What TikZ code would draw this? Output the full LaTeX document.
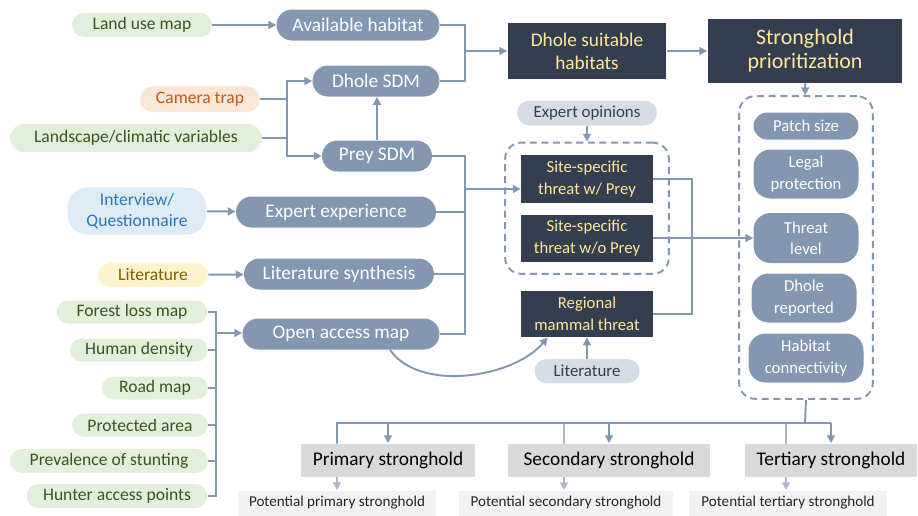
\documentclass[tikz,border=0pt]{standalone}
\usepackage{fontspec}
\setmainfont{Carlito}
\usepackage{tikz}
\usepackage{xcolor}
\definecolor{linecolor}{HTML}{8497B0}
\definecolor{lightline}{HTML}{ADB9CA}
\definecolor{darkfill}{HTML}{333F50}
\definecolor{darktext}{HTML}{FFE699}
\definecolor{greenfill}{HTML}{E2EFDA}
\definecolor{greentext}{HTML}{375623}
\definecolor{orangefill}{HTML}{FBE5D6}
\definecolor{orangetext}{HTML}{C55A11}
\definecolor{bluefill}{HTML}{DDEBF7}
\definecolor{bluetext}{HTML}{2E75B6}
\definecolor{yellowfill}{HTML}{FFF2CC}
\definecolor{yellowtext}{HTML}{7F6000}
\definecolor{palefill}{HTML}{D6DCE5}
\definecolor{tierfill}{HTML}{D9D9D9}
\definecolor{potfill}{HTML}{F2F2F2}
\usetikzlibrary{
  arrows.meta,
  fit,
  backgrounds,
}

\begin{document}
\begin{tikzpicture}[x=0.02cm, y=-0.02cm, >={Triangle[length=4.5pt,width=4.5pt]}]
	\tikzset{
		pill/.style={rectangle, rounded corners=0.24cm, minimum height=0.48cm, inner sep=1pt, font=\fontsize{10}{12}\selectfont},
		greenpill/.style={pill, fill=greenfill, text=greentext},
		proc/.style={rectangle, rounded corners=0.31cm, minimum height=0.62cm, inner sep=1pt, fill=linecolor, text=white, font=\fontsize{11}{13}\selectfont},
		darkbox/.style={rectangle, fill=darkfill, text=darktext, align=center, inner sep=1pt, font=\fontsize{9.5}{12.5}\selectfont},
		palepill/.style={pill, fill=palefill, text=darkfill, font=\fontsize{9.6}{12}\selectfont},
		critnode/.style={rectangle, rounded corners=0.34cm, minimum width=2.1cm, minimum height=0.98cm, inner sep=1pt, fill=linecolor, text=white, align=center, font=\fontsize{9.5}{12}\selectfont},
		dashbox/.style={draw=linecolor, line width=1.1pt, dash pattern=on 4pt off 2.6pt, rounded corners=0.32cm},
		tierbox/.style={rectangle, fill=tierfill, text=black, minimum height=0.66cm, inner sep=1pt, font=\fontsize{11}{13}\selectfont},
		potbox/.style={rectangle, fill=potfill, text=black!85, minimum height=0.5cm, inner sep=1pt, font=\fontsize{8.6}{10}\selectfont},
		conn/.style={draw=linecolor, line width=1.1pt},
		lightconn/.style={draw=lightline, line width=1.1pt},
	}
	\useasboundingbox (0,0) rectangle (918,515);
	% input data
	\node (land) [greenpill, minimum width=2.8cm] at (142,25) {Land use map};
	\node (camera) [pill, fill=orangefill, text=orangetext, minimum width=2.4cm, minimum height=0.52cm, rounded corners=0.26cm] at (200,99) {Camera trap};
	\node (landscape) [greenpill, minimum width=5.04cm, minimum height=0.56cm, rounded corners=0.28cm] at (136,138) {Landscape/climatic variables};
	\node (interview) [pill, fill=bluefill, text=bluetext, minimum width=2.78cm, minimum height=0.94cm, rounded corners=0.4cm, align=center, font=\fontsize{10}{11.7}\selectfont] at (137,211) {Interview/\\Questionnaire};
	\node (lit1) [pill, fill=yellowfill, text=yellowtext, minimum width=2.2cm] at (153,275) {Literature};
	\node (forest) [greenpill, minimum width=3.02cm, minimum height=0.46cm, rounded corners=0.23cm] at (132,312) {Forest loss map};
	\node (human) [greenpill, minimum width=2.76cm, minimum height=0.46cm, rounded corners=0.23cm] at (139,350) {Human density};
	\node (road) [greenpill, minimum width=2.12cm, minimum height=0.46cm, rounded corners=0.23cm] at (155,388) {Road map};
	\node (protected) [greenpill, minimum width=2.72cm, minimum height=0.46cm, rounded corners=0.23cm] at (140,425) {Protected area};
	\node (stunting) [greenpill, minimum width=3.96cm, minimum height=0.48cm] at (109,461) {Prevalence of stunting};
	\node (hunter) [greenpill, minimum width=3.62cm, minimum height=0.48cm] at (117,496) {Hunter access points};
	% processed layers
	\node (avail) [proc, minimum width=3.26cm] at (358,25) {Available habitat};
	\node (dsdm) [proc, minimum width=2.54cm] at (376,81) {Dhole SDM};
	\node (psdm) [proc, minimum width=2.2cm] at (377,156) {Prey SDM};
	\node (expert) [proc, minimum width=4cm] at (336,212) {Expert experience};
	\node (litsyn) [proc, minimum width=3.8cm] at (339,274) {Literature synthesis};
	\node (oam) [proc, minimum width=3.94cm] at (341,334) {Open access map};
	% threats
	\node (suit) [darkbox, minimum width=3.18cm, minimum height=1.12cm, font=\fontsize{11}{13}\selectfont] at (587,51) {Dhole suitable\\habitats};
	\node (strong) [darkbox, minimum width=3.9cm, minimum height=1.28cm, font=\fontsize{12.5}{13.8}\selectfont] at (805,51) {Stronghold\\prioritization};
	\node (expop) [palepill, minimum width=2.8cm, minimum height=0.5cm, rounded corners=0.25cm] at (587,113) {Expert opinions};
	\node (wprey) [darkbox, minimum width=2.64cm, minimum height=0.96cm] at (587,179) {Site-specific\\threat w/ Prey};
	\node (woprey) [darkbox, minimum width=2.64cm, minimum height=0.94cm] at (587,238) {Site-specific\\threat w/o Prey};
	\node (regional) [darkbox, minimum width=2.64cm, minimum height=0.92cm] at (587,314) {Regional\\mammal threat};
	\node (lit2) [palepill, minimum width=2.1cm] at (587,371) {Literature};
	\node (threatbox) [dashbox, fit=(wprey) (woprey), inner xsep=0.31cm, inner ysep=0.24cm] {};
	% criteria
	\node (patch) [critnode, minimum height=0.54cm, rounded corners=0.27cm] at (806,126) {Patch size};
	\node (legal) [critnode] at (806,174) {Legal\\protection};
	\node (threat) [critnode, minimum height=1cm] at (806,238) {Threat\\level};
	\node (dreported) [critnode] at (804,298) {Dhole\\reported};
	\node (habconn) [critnode, minimum width=2.3cm] at (806,358) {Habitat\\connectivity};
	\node (critbox) [dashbox, fit=(patch) (habconn), inner xsep=0.18cm, inner ysep=0.32cm] {};
	% outcomes
	\node (tier1) [tierbox, minimum width=3.5cm] at (388,460) {Primary stronghold};
	\node (tier2) [tierbox, minimum width=4.04cm] at (609,460) {Secondary stronghold};
	\node (tier3) [tierbox, minimum width=3.44cm] at (831,460) {Tertiary stronghold};
	\node (pot1) [potbox, minimum width=3.98cm] at (337,503) {Potential primary stronghold};
	\node (pot2) [potbox, minimum width=4.28cm] at (566,503) {Potential secondary stronghold};
	\node (pot3) [potbox, minimum width=3.96cm] at (788,503) {Potential tertiary stronghold};
	% junctions
	\coordinate (jc) at (287,118);
	\coordinate (js) at (465,51);
	\coordinate (jt) at (465,189);
	\coordinate (jo) at (216,333);
	\coordinate (jr) at (692,250);
	\coordinate (jb) at (805,423);
	% connectors
	\begin{scope}[conn]
		\draw [->] (land) -- (avail);
		\draw (camera.east) -- (camera.east -| jc);
		\draw (landscape.east) -- (landscape.east -| jc);
		\draw [<->] (dsdm.west) -| (jc) |- (psdm.west);
		\draw [->] (psdm.north) -- (psdm.north |- dsdm.south);
		\draw (avail.east) -| (js) |- (dsdm.east);
		\draw [->] (js) -- (suit.west);
		\draw [->] (suit) -- (strong);
		\draw (psdm.east) -| (jt) |- (oam.east);
		\draw (expert.east) -- (expert.east -| jt);
		\draw (litsyn.east) -- (litsyn.east -| jt);
		\draw [->] (jt) -- (jt -| wprey.west);
		\draw [->] (interview) -- (expert);
		\draw [->] (lit1) -- (litsyn);
		\draw (forest.east) -| (jo |- hunter) -- (hunter.east);
		\draw (human.east) -- (human.east -| jo);
		\draw (road.east) -- (road.east -| jo);
		\draw (protected.east) -- (protected.east -| jo);
		\draw (stunting.east) -- (stunting.east -| jo);
		\draw [->] (jo) -- (jo -| oam.west);
		\draw [->] ([xshift=0.98cm]oam.south) to[out=-55, in=-130, looseness=0.85] ([xshift=0.54cm]regional.south west);
		\draw [->] (expop) -- (threatbox);
		\draw [->] (lit2) -- (regional);
		\draw (wprey.east) -| (jr) |- (regional.east);
		\draw [->] (woprey.east) -- (threat.west);
		\draw [->] (strong) -- (critbox);
		\draw (critbox.south) -- (jb);
		\draw (pot1.north |- tier1.north) -- (pot1.north |- jb) -- (tier3.north |- jb);
		\draw [->] (tier1.north |- jb) -- (tier1.north);
		\draw [->] (tier2.north |- jb) -- (tier2.north);
		\draw [->] (tier3.north |- jb) -- (tier3.north);
	\end{scope}
	\begin{pgfonlayer}{background}
		\draw [lightconn, ->] (pot1.north |- jb) -- (pot1.north);
		\draw [lightconn, ->] ([xshift=-0.04cm]pot2.north |- jb) -- ([xshift=-0.04cm]pot2.north);
		\draw [lightconn, ->] ([xshift=-0.04cm]pot3.north |- jb) -- ([xshift=-0.04cm]pot3.north);
	\end{pgfonlayer}
\end{tikzpicture}
\end{document}
